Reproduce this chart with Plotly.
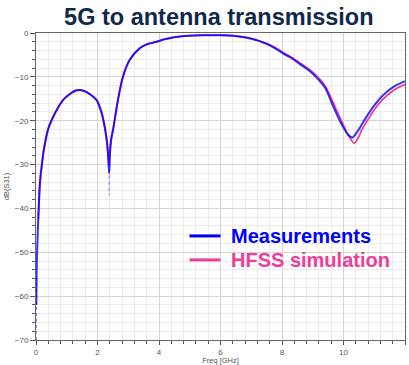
import plotly.graph_objects as go

# ---------------- data ----------------
freq_meas = [0.01, 0.02, 0.04, 0.07, 0.10, 0.13, 0.20, 0.26, 0.40, 0.56, 0.70, 0.89, 1.10,
             1.30, 1.43, 1.60, 1.80, 1.97, 2.13, 2.25, 2.31, 2.35, 2.38, 2.41, 2.45, 2.51,
             2.67, 2.83, 3.05, 3.37, 3.60, 3.91, 4.20, 4.45, 5.00, 5.50, 6.00, 6.40, 6.72,
             7.00, 7.25, 7.48, 7.75, 8.02, 8.30, 8.56, 8.85, 9.10, 9.40, 9.64, 9.80, 9.97,
             10.15, 10.29, 10.45, 10.60, 10.73, 11.00, 11.27, 11.60, 12.00]
s31_meas = [-62.0, -55.0, -49.0, -43.0, -38.0, -34.0, -29.5, -26.4, -21.8, -19.1, -17.2, -15.2, -13.9,
            -13.1, -13.0, -13.3, -14.2, -15.3, -18.1, -22.0, -25.0, -28.5, -32.0, -27.0, -24.0, -21.9,
            -15.1, -9.9, -6.1, -3.5, -2.6, -2.0, -1.4, -1.0, -0.6, -0.5, -0.5, -0.6, -0.9,
            -1.3, -1.8, -2.4, -3.4, -4.6, -5.7, -7.0, -8.4, -10.0, -12.5, -16.3, -18.8, -21.2,
            -23.2, -23.8, -22.5, -20.8, -19.3, -16.5, -14.3, -12.4, -11.0]

# sparse deep samples of the measurement (drawn dotted)
freq_meas_deep = [0.0, 0.005, 0.01, 0.02]
s31_meas_deep = [-70.0, -66.0, -62.0, -55.0]
freq_dip_deep = [2.36, 2.38, 2.40]
s31_dip_deep = [-30.0, -37.0, -30.0]

freq_sim = [0.075, 0.10, 0.13, 0.20, 0.26, 0.40, 0.56, 0.70, 0.89, 1.10, 1.30, 1.43, 1.60,
            1.80, 1.97, 2.13, 2.25, 2.31, 2.35, 2.37, 2.40, 2.45, 2.51, 2.67, 2.83, 3.05,
            3.37, 3.60, 3.91, 4.20, 4.45, 5.00, 5.50, 6.00, 6.40, 6.72, 7.00, 7.25, 7.48,
            7.75, 8.02, 8.30, 8.56, 8.85, 9.10, 9.40, 9.64, 9.80, 9.97, 10.15, 10.35, 10.50,
            10.60, 10.73, 11.00, 11.27, 11.60, 12.00]
s31_sim = [-42.5, -38.0, -34.0, -29.5, -26.4, -21.8, -19.1, -17.2, -15.2, -13.9, -13.1, -13.0, -13.3,
           -14.2, -15.3, -18.1, -22.0, -25.0, -28.5, -30.0, -27.0, -24.0, -21.9, -15.1, -9.9, -6.1,
           -3.5, -2.6, -2.0, -1.4, -1.0, -0.6, -0.5, -0.5, -0.6, -0.9, -1.3, -1.8, -2.4,
           -3.2, -4.4, -5.5, -6.7, -8.1, -9.6, -12.0, -15.5, -18.0, -20.6, -23.2, -25.1, -23.6,
           -22.0, -20.5, -17.5, -15.2, -13.2, -11.7]

legend_labels = ["Measurements", "HFSS simulation"]
title_text = "5G to antenna transmission"

BLUE = "#0000ff"
PINK = "#f23c96"

fig = go.Figure()
fig.add_trace(go.Scatter(x=freq_sim, y=s31_sim, mode="lines",
                         line=dict(color=PINK, width=1.8, shape="spline", smoothing=0.9),
                         showlegend=False))
fig.add_trace(go.Scatter(x=freq_meas, y=s31_meas, mode="lines", opacity=0.8,
                         line=dict(color=BLUE, width=2.0, shape="spline", smoothing=0.9),
                         showlegend=False))
fig.add_trace(go.Scatter(x=freq_meas_deep, y=s31_meas_deep, mode="lines", opacity=0.6,
                         line=dict(color=BLUE, width=1.2, dash="dot"), showlegend=False))
fig.add_trace(go.Scatter(x=freq_dip_deep, y=s31_dip_deep, mode="lines", opacity=0.4,
                         line=dict(color=BLUE, width=1.0, dash="dot"), showlegend=False))

# legend drawn as text + short line samples
leg_y = [0.339, 0.261]
leg_col = [BLUE, PINK]
for lab, yy, col in zip(legend_labels, leg_y, leg_col):
    fig.add_shape(type="line", xref="paper", yref="paper", x0=0.416, x1=0.5, y0=yy, y1=yy,
                  line=dict(color=col, width=3))
    fig.add_annotation(text="<b>%s</b>" % lab, xref="paper", yref="paper", x=0.524, y=yy,
                       xanchor="left", yanchor="middle", showarrow=False,
                       font=dict(family="Liberation Sans, Arial", size=20, color=col))

fig.update_layout(
    width=409, height=365,
    margin=dict(l=36, r=3, t=33, b=22),
    paper_bgcolor="white", plot_bgcolor="white",
    title=dict(text="<b>%s</b>" % title_text, x=0.535, xanchor="center", y=0.953, yanchor="middle",
               font=dict(family="Liberation Sans, Arial", size=23.5, color="#10294a")),
    font=dict(family="Liberation Sans, Arial", size=8, color="#555555"),
)
fig.update_xaxes(range=[0, 12], dtick=2, tick0=0, showgrid=True, gridcolor="#d4d4d4", gridwidth=1,
                 minor=dict(dtick=0.4, tick0=0, showgrid=True, gridcolor="#ececec",
                            ticks="outside", ticklen=3, tickcolor="#555555"),
                 ticks="outside", ticklen=4, tickcolor="#555555",
                 showline=True, linecolor="#666666", linewidth=1, mirror=True,
                 zeroline=False,
                 title=dict(text="Freq [GHz]", font=dict(size=7.5), standoff=0),
                 tickfont=dict(size=8))
fig.update_yaxes(range=[-70, 0], dtick=10, tick0=0, showgrid=True, gridcolor="#d4d4d4", gridwidth=1,
                 minor=dict(dtick=2, tick0=0, showgrid=True, gridcolor="#ececec",
                            ticks="outside", ticklen=3, tickcolor="#555555"),
                 ticks="outside", ticklen=5, tickcolor="#555555",
                 showline=True, linecolor="#666666", linewidth=1, mirror=True,
                 zeroline=False,
                 title=dict(text="dB(S31)", font=dict(size=7.5), standoff=4),
                 tickfont=dict(size=8))

fig.write_html("out.html")
